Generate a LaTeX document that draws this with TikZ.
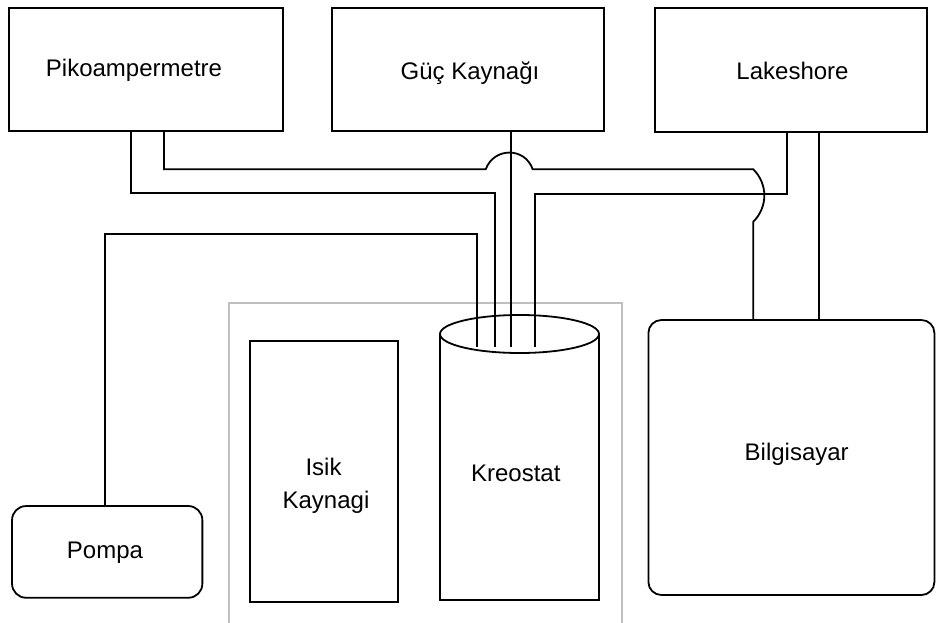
\documentclass[tikz,border=0pt]{standalone}
\usepackage{fontspec}
\setmainfont{Liberation Sans}
\begin{document}
\begin{tikzpicture}[x=1pt,y=-1pt,
  box/.style={draw=black,line width=1.8pt,inner sep=0pt,outer sep=0pt},
  wire/.style={draw=black,line width=1.8pt,line join=miter},
  lbl/.style={font=\fontsize{24}{33}\selectfont,anchor=base,inner sep=0pt},
  shell/.style={draw=black!25,line width=1.8pt}]
\useasboundingbox[fill=white] (0,0) rectangle (936,623);

% cryostat enclosure (open at the bottom edge)
\draw[shell] (229.3,630) -- (229.3,303.3) -- (621.7,303.3) -- (621.7,630);

% instruments
\node[box,minimum width=273.4pt,minimum height=123.3pt] (piko)  at (146,69.7) {};
\node[box,minimum width=272.3pt,minimum height=123.3pt] (guc)   at (467.9,69.7) {};
\node[box,minimum width=272.3pt,minimum height=123.7pt] (lake)  at (791.2,69.8) {};
\node[box,rounded corners=13pt,minimum width=286pt,minimum height=275pt] (bilg) at (791.4,457.5) {};
\node[box,rounded corners=14pt,minimum width=190.3pt,minimum height=91.7pt] (pompa) at (107.2,551.9) {};
\node[box,minimum width=147.7pt,minimum height=261.6pt] (isik) at (323.9,471.5) {};

% cryostat cylinder
\draw[wire] (440,335) -- (440,600) -- (599,600) -- (599,335);
\draw[wire] (519.5,334) ellipse [x radius=79.5, y radius=19];

% feed-through points on the cryostat lid
\coordinate (kp1) at (476.7,346.7);
\coordinate (kp2) at (495,346.7);
\coordinate (kp3) at (510.7,346.7);
\coordinate (kp4) at (535,346.7);

% wiring
\draw[wire] (pompa.north -| 105.3,0) |- (476.7,234.3) -- (kp1);
\draw[wire] (piko.south -| 130.7,0) |- (495,193.3) -- (kp2);
\draw[wire] (guc.south -| 510.7,0) -- (kp3);
\draw[wire] (lake.south -| 786.7,0) |- (535,194.3) -- (kp4);
\draw[wire] (piko.south -| 164,0) -- (164,169.3) -- (485.7,169.3)
  .. controls (494,147) and (525,147) .. (532.7,169.3) -- (753.3,169.3)
  .. controls (768,184) and (768,207) .. (753.3,221.7) -- (bilg.north -| 753.3,0);
\draw[wire] (lake.south -| 819,0) -- (bilg.north -| 819,0);

% labels
\node[lbl] (tpiko)  at (134,76.7)    {Pikoampermetre};
\node[lbl] (tguc)   at (470,80)      {Güç Kaynağı};
\node[lbl] (tlake)  at (792.5,80)    {Lakeshore};
\node[lbl] (tbilg)  at (796.7,460)   {Bilgisayar};
\node[lbl] (tkreo)  at (515.8,481.7) {Kreostat};
\node[lbl] (tpompa) at (105,558.3)   {Pompa};
\node[lbl] (tisik1) at (323.5,475)   {Isik};
\node[lbl] (tisik2) at (326,508)     {Kaynagi};
\end{tikzpicture}
\end{document}
